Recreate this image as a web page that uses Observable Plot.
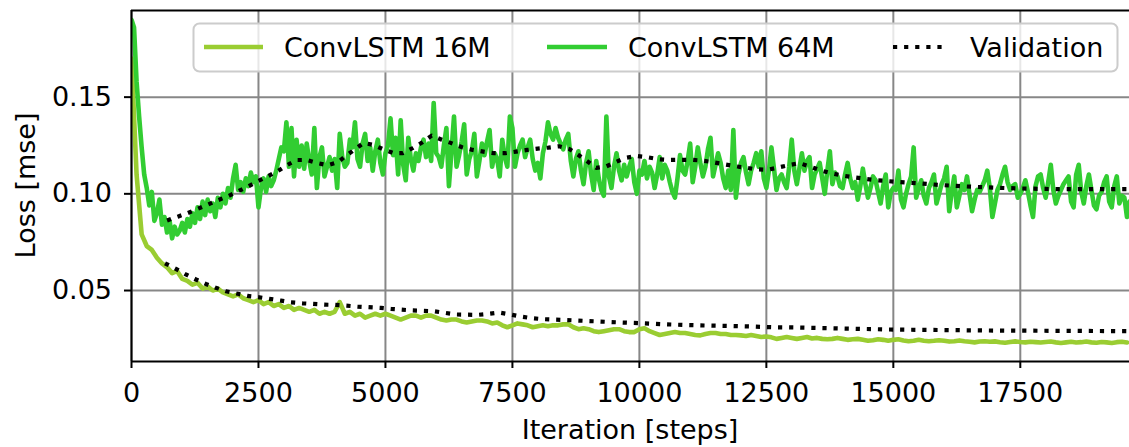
<!DOCTYPE html>
<html><head><meta charset="utf-8">
<script src="https://cdn.jsdelivr.net/npm/d3@7"></script>
<script src="https://cdn.jsdelivr.net/npm/@observablehq/plot@0.6"></script>
<style>html,body{margin:0;padding:0;background:#fff}svg{display:block}</style>
</head><body><div id="chart"></div><script>
// ---- data ----
const seriesNames = ["ConvLSTM 16M", "ConvLSTM 64M", "Validation"];
const seriesColors = ["#9acd32", "#32cd32", "#000000"];
const xTicks = [0, 2500, 5000, 7500, 10000, 12500, 15000, 17500];
const yTicks = [0.05, 0.10, 0.15];
const xDomain = [0, 19650];
const yDomain = [0.0133, 0.1948];
const xLabel = "Iteration [steps]";
const yLabel = "Loss [mse]";

// ConvLSTM 64M training loss, one value every 50 steps
const step64 = 50;
const loss64 = [
0.190,0.186,0.158,0.140,0.124,0.110,0.103,0.094,0.101,0.086,0.090,0.097,0.084,0.088,0.080,0.086,0.077,0.083,0.079,0.081,
0.085,0.080,0.087,0.083,0.090,0.085,0.093,0.087,0.096,0.089,0.097,0.091,0.095,0.088,0.098,0.093,0.100,0.095,0.103,0.098,
0.108,0.115,0.102,0.106,0.101,0.108,0.104,0.111,0.106,0.109,0.093,0.103,0.108,0.101,0.109,0.104,0.107,0.112,0.118,0.124,
0.122,0.137,0.114,0.134,0.109,0.128,0.114,0.125,0.113,0.126,0.117,0.110,0.134,0.103,0.119,0.124,0.109,0.114,0.119,0.112,
0.118,0.103,0.131,0.119,0.114,0.116,0.128,0.124,0.137,0.118,0.114,0.126,0.131,0.117,0.124,0.112,0.122,0.128,0.116,0.110,
0.121,0.125,0.139,0.120,0.129,0.110,0.138,0.115,0.107,0.129,0.118,0.112,0.121,0.117,0.124,0.128,0.119,0.126,0.117,0.147,
0.121,0.119,0.114,0.125,0.134,0.104,0.122,0.140,0.114,0.120,0.127,0.136,0.110,0.118,0.122,0.131,0.109,0.117,0.126,0.120,
0.127,0.133,0.114,0.121,0.118,0.109,0.128,0.119,0.114,0.140,0.134,0.114,0.121,0.125,0.128,0.119,0.124,0.128,0.118,0.112,
0.116,0.108,0.121,0.127,0.137,0.131,0.128,0.134,0.129,0.126,0.123,0.128,0.131,0.117,0.109,0.118,0.122,0.112,0.105,0.116,
0.122,0.110,0.102,0.117,0.108,0.102,0.099,0.140,0.109,0.103,0.114,0.121,0.112,0.107,0.115,0.109,0.114,0.118,0.106,0.100,
0.112,0.110,0.117,0.108,0.114,0.111,0.103,0.110,0.119,0.108,0.115,0.112,0.106,0.101,0.098,0.108,0.120,0.112,0.110,0.117,
0.126,0.106,0.114,0.124,0.116,0.109,0.114,0.123,0.129,0.109,0.115,0.121,0.116,0.108,0.103,0.112,0.102,0.133,0.098,0.110,
0.116,0.119,0.111,0.105,0.112,0.116,0.121,0.114,0.122,0.108,0.103,0.112,0.124,0.113,0.102,0.108,0.110,0.106,0.103,0.114,
0.128,0.112,0.105,0.113,0.121,0.112,0.117,0.119,0.103,0.110,0.113,0.116,0.108,0.100,0.112,0.122,0.105,0.111,0.109,0.104,
0.103,0.110,0.116,0.108,0.103,0.106,0.097,0.104,0.113,0.105,0.098,0.103,0.109,0.107,0.101,0.095,0.104,0.110,0.093,0.101,
0.103,0.102,0.112,0.097,0.093,0.100,0.105,0.109,0.124,0.098,0.103,0.107,0.099,0.095,0.103,0.106,0.110,0.095,0.100,0.105,
0.108,0.114,0.091,0.101,0.109,0.093,0.099,0.105,0.102,0.109,0.100,0.091,0.097,0.102,0.101,0.104,0.107,0.112,0.103,0.088,
0.095,0.102,0.105,0.110,0.114,0.106,0.102,0.104,0.105,0.098,0.100,0.103,0.107,0.101,0.094,0.088,0.104,0.109,0.110,0.103,
0.098,0.106,0.115,0.102,0.095,0.099,0.102,0.105,0.107,0.109,0.096,0.093,0.110,0.115,0.101,0.095,0.104,0.110,0.102,0.094,
0.092,0.099,0.101,0.106,0.109,0.096,0.093,0.104,0.109,0.095,0.099,0.098,0.088,0.096
];

// ConvLSTM 16M training loss, one value every 100 steps
const step16 = 100;
const loss16 = [
0.170,0.110,0.079,0.073,0.071,0.067,0.064,0.062,0.059,0.060,
0.056,0.055,0.053,0.054,0.051,0.052,0.050,0.051,0.049,0.048,
0.047,0.048,0.046,0.045,0.044,0.045,0.043,0.044,0.042,0.043,
0.041,0.042,0.040,0.041,0.040,0.039,0.040,0.038,0.039,0.038,
0.039,0.044,0.038,0.039,0.037,0.038,0.036,0.037,0.038,0.037,
0.038,0.037,0.036,0.035,0.036,0.037,0.037,0.036,0.037,0.037,
0.036,0.035,0.0345,0.035,0.035,0.034,0.0335,0.034,0.0345,0.0345,
0.034,0.033,0.0335,0.032,0.031,0.032,0.033,0.0325,0.032,0.031,
0.0315,0.032,0.0315,0.032,0.032,0.0325,0.0325,0.031,0.030,0.0305,
0.030,0.029,0.0285,0.029,0.0295,0.030,0.030,0.029,0.0285,0.0285,
0.030,0.0305,0.029,0.028,0.027,0.0275,0.028,0.0285,0.028,0.028,
0.0275,0.027,0.0268,0.0275,0.028,0.028,0.0275,0.0275,0.027,0.027,
0.0268,0.0265,0.027,0.0265,0.026,0.0262,0.0258,0.025,0.0255,0.026,
0.0255,0.025,0.0255,0.026,0.0252,0.0255,0.025,0.0248,0.025,0.0255,
0.025,0.0245,0.0248,0.025,0.0245,0.024,0.0243,0.0248,0.0245,0.024,
0.0245,0.0248,0.0242,0.0238,0.024,0.0245,0.024,0.0238,0.024,0.0243,
0.024,0.0236,0.0238,0.0242,0.0238,0.0235,0.0232,0.0236,0.0238,0.0235,
0.0237,0.0233,0.023,0.0234,0.0237,0.0234,0.0232,0.0235,0.0233,0.0231,
0.0234,0.0236,0.0232,0.0229,0.0232,0.0235,0.0231,0.0233,0.0236,0.0232,
0.023,0.0234,0.0232,0.0229,0.0233,0.0235,0.0231
];

// Validation curves
const val64Steps = [700,910,1110,1300,1500,1710,1910,2100,2300,2500,2680,2880,3060,3250,3450,3650,3860,4060,4220,4400,4570,4760,4960,5160,5340,5540,5730,5910,6110,6310,6510,6720,6930,7140,7360,7570,7790,8000,8210,8420,8620,8800,8980,9150,9340,9540,9730,9940,10160,10370,10590,10800,11010,11230,11440,11660,11870,12080,12290,12510,12730,12940,13150,13360,13560,13770,13980,14200,14410,14620,14830,15050,15480,15900,16350,16770,17210,17640,18070,18490,18920,19650];
const val64Loss = [0.0862,0.0882,0.0901,0.0922,0.0944,0.0968,0.0989,0.1013,0.1039,0.1067,0.109,0.1118,0.1148,0.1175,0.1175,0.116,0.1148,0.1163,0.1196,0.123,0.1263,0.1253,0.123,0.121,0.121,0.1237,0.1267,0.1301,0.128,0.1261,0.1241,0.1227,0.1218,0.121,0.121,0.1218,0.1227,0.1234,0.1239,0.1246,0.1232,0.1201,0.1167,0.1134,0.1141,0.1165,0.1186,0.1196,0.1189,0.1179,0.1175,0.1176,0.1176,0.1172,0.1164,0.1153,0.1143,0.1136,0.1127,0.1124,0.1136,0.1148,0.1159,0.1141,0.1122,0.1107,0.1095,0.1086,0.1079,0.1072,0.1067,0.1062,0.1055,0.1046,0.1039,0.1034,0.1030,0.1027,0.1025,0.1024,0.1024,0.1024];
const val16Steps = [660,875,1070,1270,1465,1660,1860,2090,2285,2515,2710,2940,3140,3370,3565,3795,3990,4220,4450,4650,4910,5110,5530,5960,6390,6810,7020,7240,7460,7670,7880,8090,8520,8950,9370,9800,10030,10450,10880,11310,11730,12190,12620,13050,15000,17000,19650];
const val16Loss = [0.0641,0.0612,0.0583,0.0557,0.0534,0.0514,0.0496,0.0483,0.0472,0.0465,0.0457,0.0448,0.0439,0.0434,0.0431,0.0427,0.0426,0.0422,0.0417,0.0414,0.0410,0.0405,0.0397,0.0393,0.0376,0.0374,0.0379,0.0386,0.0376,0.0365,0.0357,0.0352,0.0348,0.0343,0.0338,0.0333,0.0331,0.0326,0.0322,0.0319,0.0317,0.0314,0.031,0.0309,0.0298,0.0293,0.029];

// ---- build tables ----
const t16 = loss16.map((v, i) => ({step: i * step16, loss: v}));
const t64 = loss64.map((v, i) => ({step: i * step64, loss: v}));
const tv64 = val64Steps.map((s, i) => ({step: s, loss: val64Loss[i]}));
const tv16 = val16Steps.map((s, i) => ({step: s, loss: val16Loss[i]}));

const FONT = "DejaVu Sans";
const FS = 27;
const W = 1129, H = 447;
const mL = 131, mR = 0, mT = 10, mB = 86;
const gridColor = "#878787";
const dotDash = "4.2,6.9";
const LW = 4.6;

const chart = Plot.plot({
  width: W, height: H,
  marginLeft: mL, marginRight: mR, marginTop: mT, marginBottom: mB,
  style: {fontFamily: FONT, fontSize: FS + "px", color: "#000", background: "#fff", overflow: "visible"},
  x: {domain: xDomain, label: null},
  y: {domain: yDomain, label: null},
  marks: [
    Plot.gridX(xTicks, {stroke: gridColor, strokeOpacity: 1, strokeWidth: 2}),
    Plot.gridY(yTicks, {stroke: gridColor, strokeOpacity: 1, strokeWidth: 2}),
    Plot.line(t16, {x: "step", y: "loss", stroke: seriesColors[0], strokeWidth: LW, strokeLinejoin: "round", clip: true}),
    Plot.line(t64, {x: "step", y: "loss", stroke: seriesColors[1], strokeWidth: LW, strokeLinejoin: "round", clip: true}),
    Plot.line(tv16, {x: "step", y: "loss", stroke: seriesColors[2], strokeWidth: 4.2, strokeDasharray: dotDash, strokeLinecap: "butt", clip: true}),
    Plot.line(tv64, {x: "step", y: "loss", stroke: seriesColors[2], strokeWidth: 4.2, strokeDasharray: dotDash, strokeLinecap: "butt", clip: true}),
    Plot.ruleX([xDomain[0]], {stroke: "#000", strokeWidth: 2}),
    Plot.ruleY(yDomain, {stroke: "#000", strokeWidth: 2}),
    Plot.axisX({ticks: xTicks, tickSize: 7, tickPadding: 14.5, tickFormat: d3.format("d"), strokeWidth: 2, label: null}),
    Plot.axisY({ticks: yTicks, tickSize: 7, tickPadding: 12.5, tickFormat: d3.format(".2f"), strokeWidth: 2, label: null})
  ]
});
document.getElementById("chart").appendChild(chart);

// ---- axis titles and legend ----
const svg = d3.select(chart);
svg.append("text").attr("x", (mL + W - mR) / 2).attr("y", 439)
  .attr("text-anchor", "middle").attr("font-family", FONT).attr("font-size", FS).attr("fill", "#000").text(xLabel);
svg.append("text").attr("transform", `translate(35,${(mT + H - mB) / 2}) rotate(-90)`)
  .attr("text-anchor", "middle").attr("font-family", FONT).attr("font-size", FS).attr("fill", "#000").text(yLabel);

const lg = svg.append("g");
lg.append("rect").attr("x", 193.5).attr("y", 23.5).attr("width", 924).attr("height", 48).attr("rx", 6)
  .attr("fill", "#fff").attr("fill-opacity", 0.8).attr("stroke", "#cccccc").attr("stroke-width", 2);
const items = [
  {x0: 204, x1: 263, tx: 284},
  {x0: 547, x1: 607, tx: 628},
  {x0: 893, x1: 947, tx: 970}
];
items.forEach((it, i) => {
  const ln = lg.append("line").attr("x1", it.x0).attr("x2", it.x1).attr("y1", 47).attr("y2", 47)
    .attr("stroke", seriesColors[i]).attr("stroke-width", LW);
  if (i === 2) ln.attr("stroke-dasharray", dotDash).attr("stroke-width", 4.2);
  lg.append("text").attr("x", it.tx).attr("y", 56.5).attr("text-anchor", "start")
    .attr("font-family", FONT).attr("font-size", FS).attr("fill", "#000").text(seriesNames[i]);
});
</script></body></html>
